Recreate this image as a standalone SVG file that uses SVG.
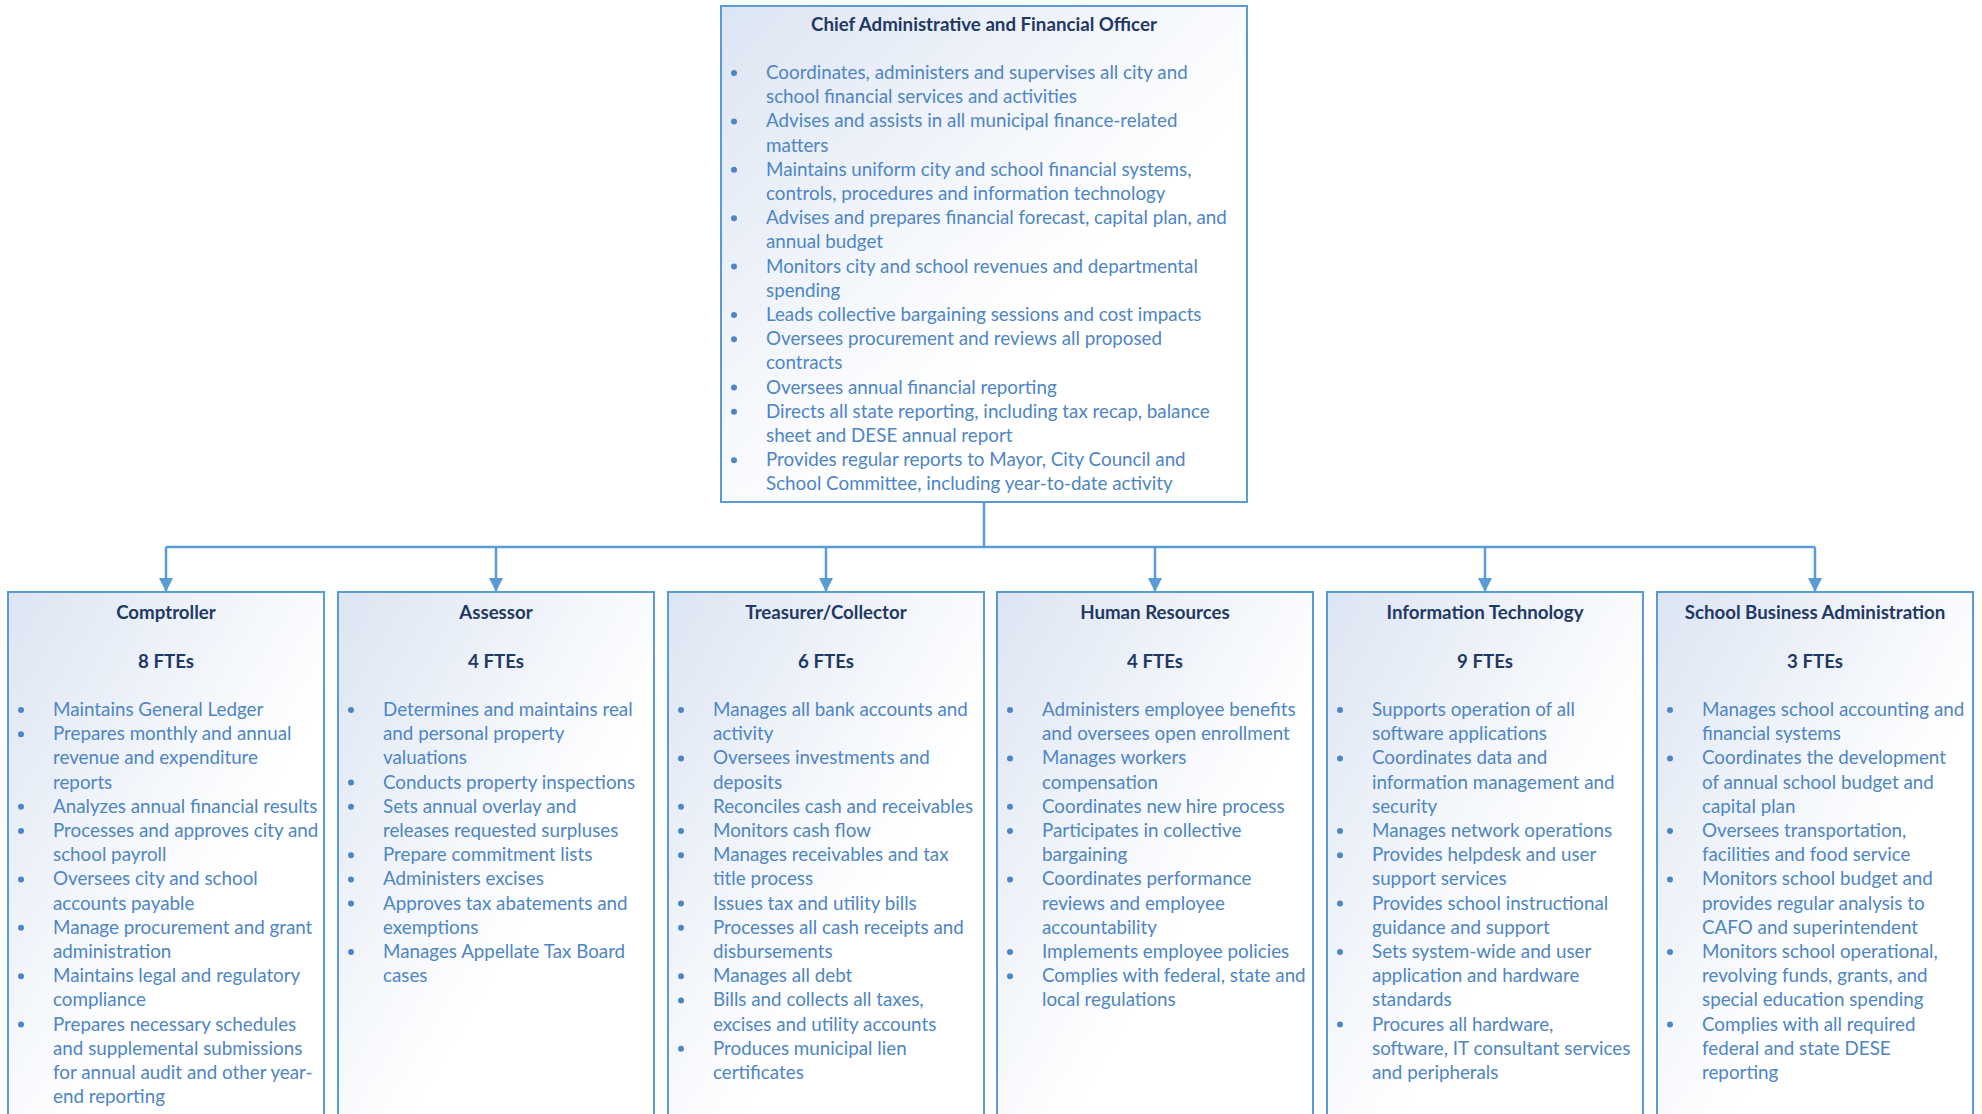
<svg xmlns="http://www.w3.org/2000/svg" width="1982" height="1114" viewBox="0 0 1982 1114">
<defs>
<linearGradient id="bg" x1="0" y1="0" x2="1" y2="1">
<stop offset="0" stop-color="#DCE5F3"/>
<stop offset="0.6" stop-color="#FFFFFF"/>
</linearGradient>
<marker id="arr" markerUnits="userSpaceOnUse" markerWidth="14" markerHeight="14" refX="7" refY="14" orient="0" viewBox="0 0 14 14">
<path d="M0,0 L14,0 L7,14 Z" fill="#5B9BD5"/>
</marker>
<style>
.box{fill:url(#bg);stroke:#5B9BD5;stroke-width:2}
.ttl{font-family:Lato,"Liberation Sans",sans-serif;font-size:18.7px;font-weight:bold;fill:#1F3864;text-anchor:middle}
.txt{font-family:Lato,"Liberation Sans",sans-serif;font-size:18.8px;fill:#4E85C5}
.dot{fill:#4E85C5}
.con{fill:none;stroke:#5B9BD5;stroke-width:2.5}
</style>
</defs>
<rect width="1982" height="1114" fill="#FFFFFF"/>
<g id="connectors">
<path class="con" d="M984,502 V547 M166,547 H1815"/>
<path class="con" d="M166,547 V592" marker-end="url(#arr)"/>
<path class="con" d="M496,547 V592" marker-end="url(#arr)"/>
<path class="con" d="M826,547 V592" marker-end="url(#arr)"/>
<path class="con" d="M1155,547 V592" marker-end="url(#arr)"/>
<path class="con" d="M1485,547 V592" marker-end="url(#arr)"/>
<path class="con" d="M1815,547 V592" marker-end="url(#arr)"/>
</g>
<g id="cafo">
<rect class="box" x="721" y="6" width="526" height="496"/>
<text class="ttl" x="984" y="30.5">Chief Administrative and Financial Officer</text>
<g class="dot"><circle cx="734" cy="73" r="3"/><circle cx="734" cy="121.4" r="3"/><circle cx="734" cy="169.8" r="3"/><circle cx="734" cy="218.2" r="3"/><circle cx="734" cy="266.6" r="3"/><circle cx="734" cy="315" r="3"/><circle cx="734" cy="339.2" r="3"/><circle cx="734" cy="387.6" r="3"/><circle cx="734" cy="411.8" r="3"/><circle cx="734" cy="460.2" r="3"/></g>
<text class="txt" x="766" y="79"><tspan x="766" y="79">Coordinates, administers and supervises all city and</tspan><tspan x="766" dy="24.2">school financial services and activities</tspan><tspan x="766" dy="24.2">Advises and assists in all municipal finance-related</tspan><tspan x="766" dy="24.2">matters</tspan><tspan x="766" dy="24.2">Maintains uniform city and school financial systems,</tspan><tspan x="766" dy="24.2">controls, procedures and information technology</tspan><tspan x="766" dy="24.2">Advises and prepares financial forecast, capital plan, and</tspan><tspan x="766" dy="24.2">annual budget</tspan><tspan x="766" dy="24.2">Monitors city and school revenues and departmental</tspan><tspan x="766" dy="24.2">spending</tspan><tspan x="766" dy="24.2">Leads collective bargaining sessions and cost impacts</tspan><tspan x="766" dy="24.2">Oversees procurement and reviews all proposed</tspan><tspan x="766" dy="24.2">contracts</tspan><tspan x="766" dy="24.2">Oversees annual financial reporting</tspan><tspan x="766" dy="24.2">Directs all state reporting, including tax recap, balance</tspan><tspan x="766" dy="24.2">sheet and DESE annual report</tspan><tspan x="766" dy="24.2">Provides regular reports to Mayor, City Council and</tspan><tspan x="766" dy="24.2">School Committee, including year-to-date activity</tspan></text>
</g>
<g id="comptroller">
<rect class="box" x="8" y="592" width="316" height="540"/>
<text class="ttl" x="166" y="619.2">Comptroller</text>
<text class="ttl" x="166" y="667.6">8 FTEs</text>
<g class="dot"><circle cx="21" cy="710" r="3"/><circle cx="21" cy="734.2" r="3"/><circle cx="21" cy="806.8" r="3"/><circle cx="21" cy="831" r="3"/><circle cx="21" cy="879.4" r="3"/><circle cx="21" cy="927.8" r="3"/><circle cx="21" cy="976.2" r="3"/><circle cx="21" cy="1024.6" r="3"/></g>
<text class="txt"><tspan x="53" y="716">Maintains General Ledger</tspan><tspan x="53" dy="24.2">Prepares monthly and annual</tspan><tspan x="53" dy="24.2">revenue and expenditure</tspan><tspan x="53" dy="24.2">reports</tspan><tspan x="53" dy="24.2">Analyzes annual financial results</tspan><tspan x="53" dy="24.2">Processes and approves city and</tspan><tspan x="53" dy="24.2">school payroll</tspan><tspan x="53" dy="24.2">Oversees city and school</tspan><tspan x="53" dy="24.2">accounts payable</tspan><tspan x="53" dy="24.2">Manage procurement and grant</tspan><tspan x="53" dy="24.2">administration</tspan><tspan x="53" dy="24.2">Maintains legal and regulatory</tspan><tspan x="53" dy="24.2">compliance</tspan><tspan x="53" dy="24.2">Prepares necessary schedules</tspan><tspan x="53" dy="24.2">and supplemental submissions</tspan><tspan x="53" dy="24.2">for annual audit and other year-</tspan><tspan x="53" dy="24.2">end reporting</tspan></text>
</g>
<g id="assessor">
<rect class="box" x="338" y="592" width="316" height="540"/>
<text class="ttl" x="496" y="619.2">Assessor</text>
<text class="ttl" x="496" y="667.6">4 FTEs</text>
<g class="dot"><circle cx="351" cy="710" r="3"/><circle cx="351" cy="782.6" r="3"/><circle cx="351" cy="806.8" r="3"/><circle cx="351" cy="855.2" r="3"/><circle cx="351" cy="879.4" r="3"/><circle cx="351" cy="903.6" r="3"/><circle cx="351" cy="952" r="3"/></g>
<text class="txt"><tspan x="383" y="716">Determines and maintains real</tspan><tspan x="383" dy="24.2">and personal property</tspan><tspan x="383" dy="24.2">valuations</tspan><tspan x="383" dy="24.2">Conducts property inspections</tspan><tspan x="383" dy="24.2">Sets annual overlay and</tspan><tspan x="383" dy="24.2">releases requested surpluses</tspan><tspan x="383" dy="24.2">Prepare commitment lists</tspan><tspan x="383" dy="24.2">Administers excises</tspan><tspan x="383" dy="24.2">Approves tax abatements and</tspan><tspan x="383" dy="24.2">exemptions</tspan><tspan x="383" dy="24.2">Manages Appellate Tax Board</tspan><tspan x="383" dy="24.2">cases</tspan></text>
</g>
<g id="treasurer">
<rect class="box" x="668" y="592" width="316" height="540"/>
<text class="ttl" x="826" y="619.2">Treasurer/Collector</text>
<text class="ttl" x="826" y="667.6">6 FTEs</text>
<g class="dot"><circle cx="681" cy="710" r="3"/><circle cx="681" cy="758.4" r="3"/><circle cx="681" cy="806.8" r="3"/><circle cx="681" cy="831" r="3"/><circle cx="681" cy="855.2" r="3"/><circle cx="681" cy="903.6" r="3"/><circle cx="681" cy="927.8" r="3"/><circle cx="681" cy="976.2" r="3"/><circle cx="681" cy="1000.4" r="3"/><circle cx="681" cy="1048.8" r="3"/></g>
<text class="txt"><tspan x="713" y="716">Manages all bank accounts and</tspan><tspan x="713" dy="24.2">activity</tspan><tspan x="713" dy="24.2">Oversees investments and</tspan><tspan x="713" dy="24.2">deposits</tspan><tspan x="713" dy="24.2">Reconciles cash and receivables</tspan><tspan x="713" dy="24.2">Monitors cash flow</tspan><tspan x="713" dy="24.2">Manages receivables and tax</tspan><tspan x="713" dy="24.2">title process</tspan><tspan x="713" dy="24.2">Issues tax and utility bills</tspan><tspan x="713" dy="24.2">Processes all cash receipts and</tspan><tspan x="713" dy="24.2">disbursements</tspan><tspan x="713" dy="24.2">Manages all debt</tspan><tspan x="713" dy="24.2">Bills and collects all taxes,</tspan><tspan x="713" dy="24.2">excises and utility accounts</tspan><tspan x="713" dy="24.2">Produces municipal lien</tspan><tspan x="713" dy="24.2">certificates</tspan></text>
</g>
<g id="hr">
<rect class="box" x="997" y="592" width="316" height="540"/>
<text class="ttl" x="1155" y="619.2">Human Resources</text>
<text class="ttl" x="1155" y="667.6">4 FTEs</text>
<g class="dot"><circle cx="1010" cy="710" r="3"/><circle cx="1010" cy="758.4" r="3"/><circle cx="1010" cy="806.8" r="3"/><circle cx="1010" cy="831" r="3"/><circle cx="1010" cy="879.4" r="3"/><circle cx="1010" cy="952" r="3"/><circle cx="1010" cy="976.2" r="3"/></g>
<text class="txt"><tspan x="1042" y="716">Administers employee benefits</tspan><tspan x="1042" dy="24.2">and oversees open enrollment</tspan><tspan x="1042" dy="24.2">Manages workers</tspan><tspan x="1042" dy="24.2">compensation</tspan><tspan x="1042" dy="24.2">Coordinates new hire process</tspan><tspan x="1042" dy="24.2">Participates in collective</tspan><tspan x="1042" dy="24.2">bargaining</tspan><tspan x="1042" dy="24.2">Coordinates performance</tspan><tspan x="1042" dy="24.2">reviews and employee</tspan><tspan x="1042" dy="24.2">accountability</tspan><tspan x="1042" dy="24.2">Implements employee policies</tspan><tspan x="1042" dy="24.2">Complies with federal, state and</tspan><tspan x="1042" dy="24.2">local regulations</tspan></text>
</g>
<g id="it">
<rect class="box" x="1327" y="592" width="316" height="540"/>
<text class="ttl" x="1485" y="619.2">Information Technology</text>
<text class="ttl" x="1485" y="667.6">9 FTEs</text>
<g class="dot"><circle cx="1340" cy="710" r="3"/><circle cx="1340" cy="758.4" r="3"/><circle cx="1340" cy="831" r="3"/><circle cx="1340" cy="855.2" r="3"/><circle cx="1340" cy="903.6" r="3"/><circle cx="1340" cy="952" r="3"/><circle cx="1340" cy="1024.6" r="3"/></g>
<text class="txt"><tspan x="1372" y="716">Supports operation of all</tspan><tspan x="1372" dy="24.2">software applications</tspan><tspan x="1372" dy="24.2">Coordinates data and</tspan><tspan x="1372" dy="24.2">information management and</tspan><tspan x="1372" dy="24.2">security</tspan><tspan x="1372" dy="24.2">Manages network operations</tspan><tspan x="1372" dy="24.2">Provides helpdesk and user</tspan><tspan x="1372" dy="24.2">support services</tspan><tspan x="1372" dy="24.2">Provides school instructional</tspan><tspan x="1372" dy="24.2">guidance and support</tspan><tspan x="1372" dy="24.2">Sets system-wide and user</tspan><tspan x="1372" dy="24.2">application and hardware</tspan><tspan x="1372" dy="24.2">standards</tspan><tspan x="1372" dy="24.2">Procures all hardware,</tspan><tspan x="1372" dy="24.2">software, IT consultant services</tspan><tspan x="1372" dy="24.2">and peripherals</tspan></text>
</g>
<g id="sba">
<rect class="box" x="1657" y="592" width="316" height="540"/>
<text class="ttl" x="1815" y="619.2">School Business Administration</text>
<text class="ttl" x="1815" y="667.6">3 FTEs</text>
<g class="dot"><circle cx="1670" cy="710" r="3"/><circle cx="1670" cy="758.4" r="3"/><circle cx="1670" cy="831" r="3"/><circle cx="1670" cy="879.4" r="3"/><circle cx="1670" cy="952" r="3"/><circle cx="1670" cy="1024.6" r="3"/></g>
<text class="txt"><tspan x="1702" y="716">Manages school accounting and</tspan><tspan x="1702" dy="24.2">financial systems</tspan><tspan x="1702" dy="24.2">Coordinates the development</tspan><tspan x="1702" dy="24.2">of annual school budget and</tspan><tspan x="1702" dy="24.2">capital plan</tspan><tspan x="1702" dy="24.2">Oversees transportation,</tspan><tspan x="1702" dy="24.2">facilities and food service</tspan><tspan x="1702" dy="24.2">Monitors school budget and</tspan><tspan x="1702" dy="24.2">provides regular analysis to</tspan><tspan x="1702" dy="24.2">CAFO and superintendent</tspan><tspan x="1702" dy="24.2">Monitors school operational,</tspan><tspan x="1702" dy="24.2">revolving funds, grants, and</tspan><tspan x="1702" dy="24.2">special education spending</tspan><tspan x="1702" dy="24.2">Complies with all required</tspan><tspan x="1702" dy="24.2">federal and state DESE</tspan><tspan x="1702" dy="24.2">reporting</tspan></text>
</g>
</svg>
